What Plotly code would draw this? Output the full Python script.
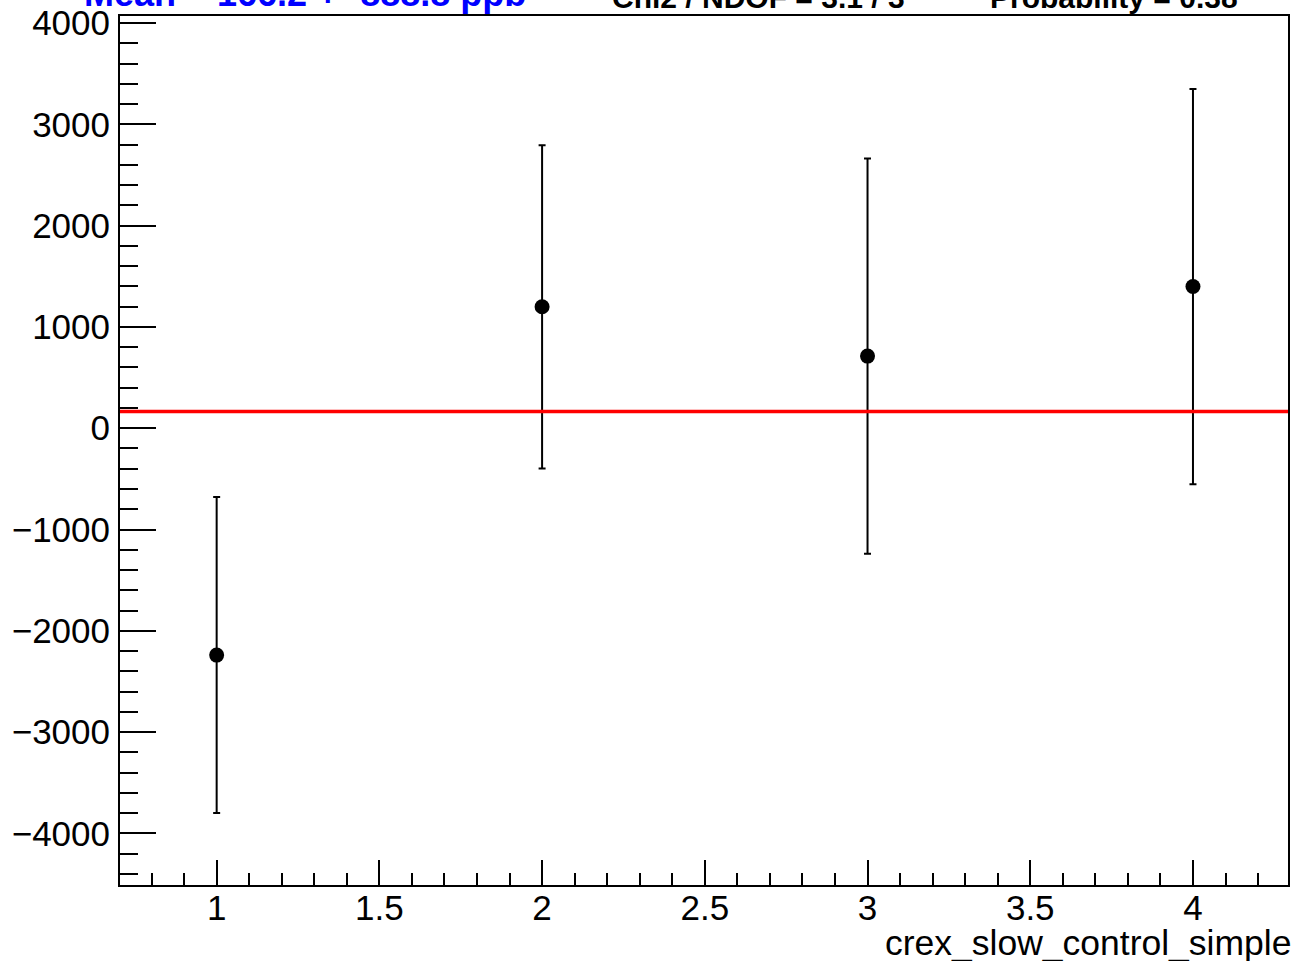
import plotly.graph_objects as go

# data
x_vals = [1, 2, 3, 4]
y_vals = [-2240, 1199, 712, 1399]
y_errs = [1560, 1596, 1951, 1951]
mean_val = 166.2
mean_text = "Mean = 166.2 +- 888.8 ppb"
chi2_text = "Chi2 / NDOF = 3.1 / 3"
prob_text = "Probability = 0.38"
x_title = "crex_slow_control_simple"

W, H = 1293, 961
ml, mr, mt, mb = 120, 3, 15, 76
FONT = "Liberation Sans, Arial, Helvetica, sans-serif"

fig = go.Figure()
fig.add_trace(go.Scatter(
    x=x_vals, y=y_vals, mode="markers",
    marker=dict(color="black", size=15, symbol="circle"),
    error_y=dict(type="data", array=y_errs, visible=True, color="black",
                 thickness=2, width=3.5),
    showlegend=False,
))

fig.add_shape(type="line", xref="paper", yref="y", x0=0, x1=1,
              y0=mean_val, y1=mean_val, line=dict(color="red", width=3.5))

pw = W - ml - mr
ph = H - mt - mb
def px_x(p):
    return (p - ml) / pw
def px_y(p):
    return 1 - (p - mt) / ph

for txt, xpix, col, sz in [(mean_text, 83, "blue", 36), (chi2_text, 612, "black", 30), (prob_text, 990, "black", 30)]:
    fig.add_annotation(text="<b>" + txt + "</b>", xref="paper", yref="paper",
                       x=px_x(xpix), y=px_y(14), xanchor="left", yanchor="bottom",
                       showarrow=False, font=dict(family=FONT, size=sz, color=col),
                       borderpad=0)

fig.add_annotation(text=x_title, xref="paper", yref="paper",
                   x=px_x(1294), y=px_y(943), xanchor="right", yanchor="middle",
                   showarrow=False, font=dict(family=FONT, size=35.5, color="black"),
                   borderpad=0)

fig.update_xaxes(range=[0.703, 4.292], tickmode="linear", tick0=0, dtick=0.5,
                 ticks="inside", ticklen=25, tickwidth=2, tickcolor="black",
                 minor=dict(ticks="inside", ticklen=12, tickwidth=2, dtick=0.1, tick0=0, tickcolor="black"),
                 showline=True, linecolor="black", linewidth=2, mirror=True,
                 showgrid=False, zeroline=False,
                 tickfont=dict(family=FONT, size=35, color="black"),
                 ticklabelstandoff=-9)
fig.update_yaxes(range=[-4510, 4070], tickmode="linear", tick0=0, dtick=1000,
                 ticks="inside", ticklen=36, tickwidth=2, tickcolor="black",
                 minor=dict(ticks="inside", ticklen=18, tickwidth=2, dtick=200, tick0=0, tickcolor="black"),
                 showline=True, linecolor="black", linewidth=2, mirror=True,
                 showgrid=False, zeroline=False,
                 tickfont=dict(family=FONT, size=35, color="black"),
                 ticklabelstandoff=1)

fig.update_layout(width=W, height=H, margin=dict(l=ml, r=mr, t=mt, b=mb),
                  plot_bgcolor="white", paper_bgcolor="white",
                  font=dict(family=FONT))

fig.write_html("out.html", config={"displayModeBar": False},
               post_script="document.body.style.margin='0';document.body.style.overflow='hidden';")
